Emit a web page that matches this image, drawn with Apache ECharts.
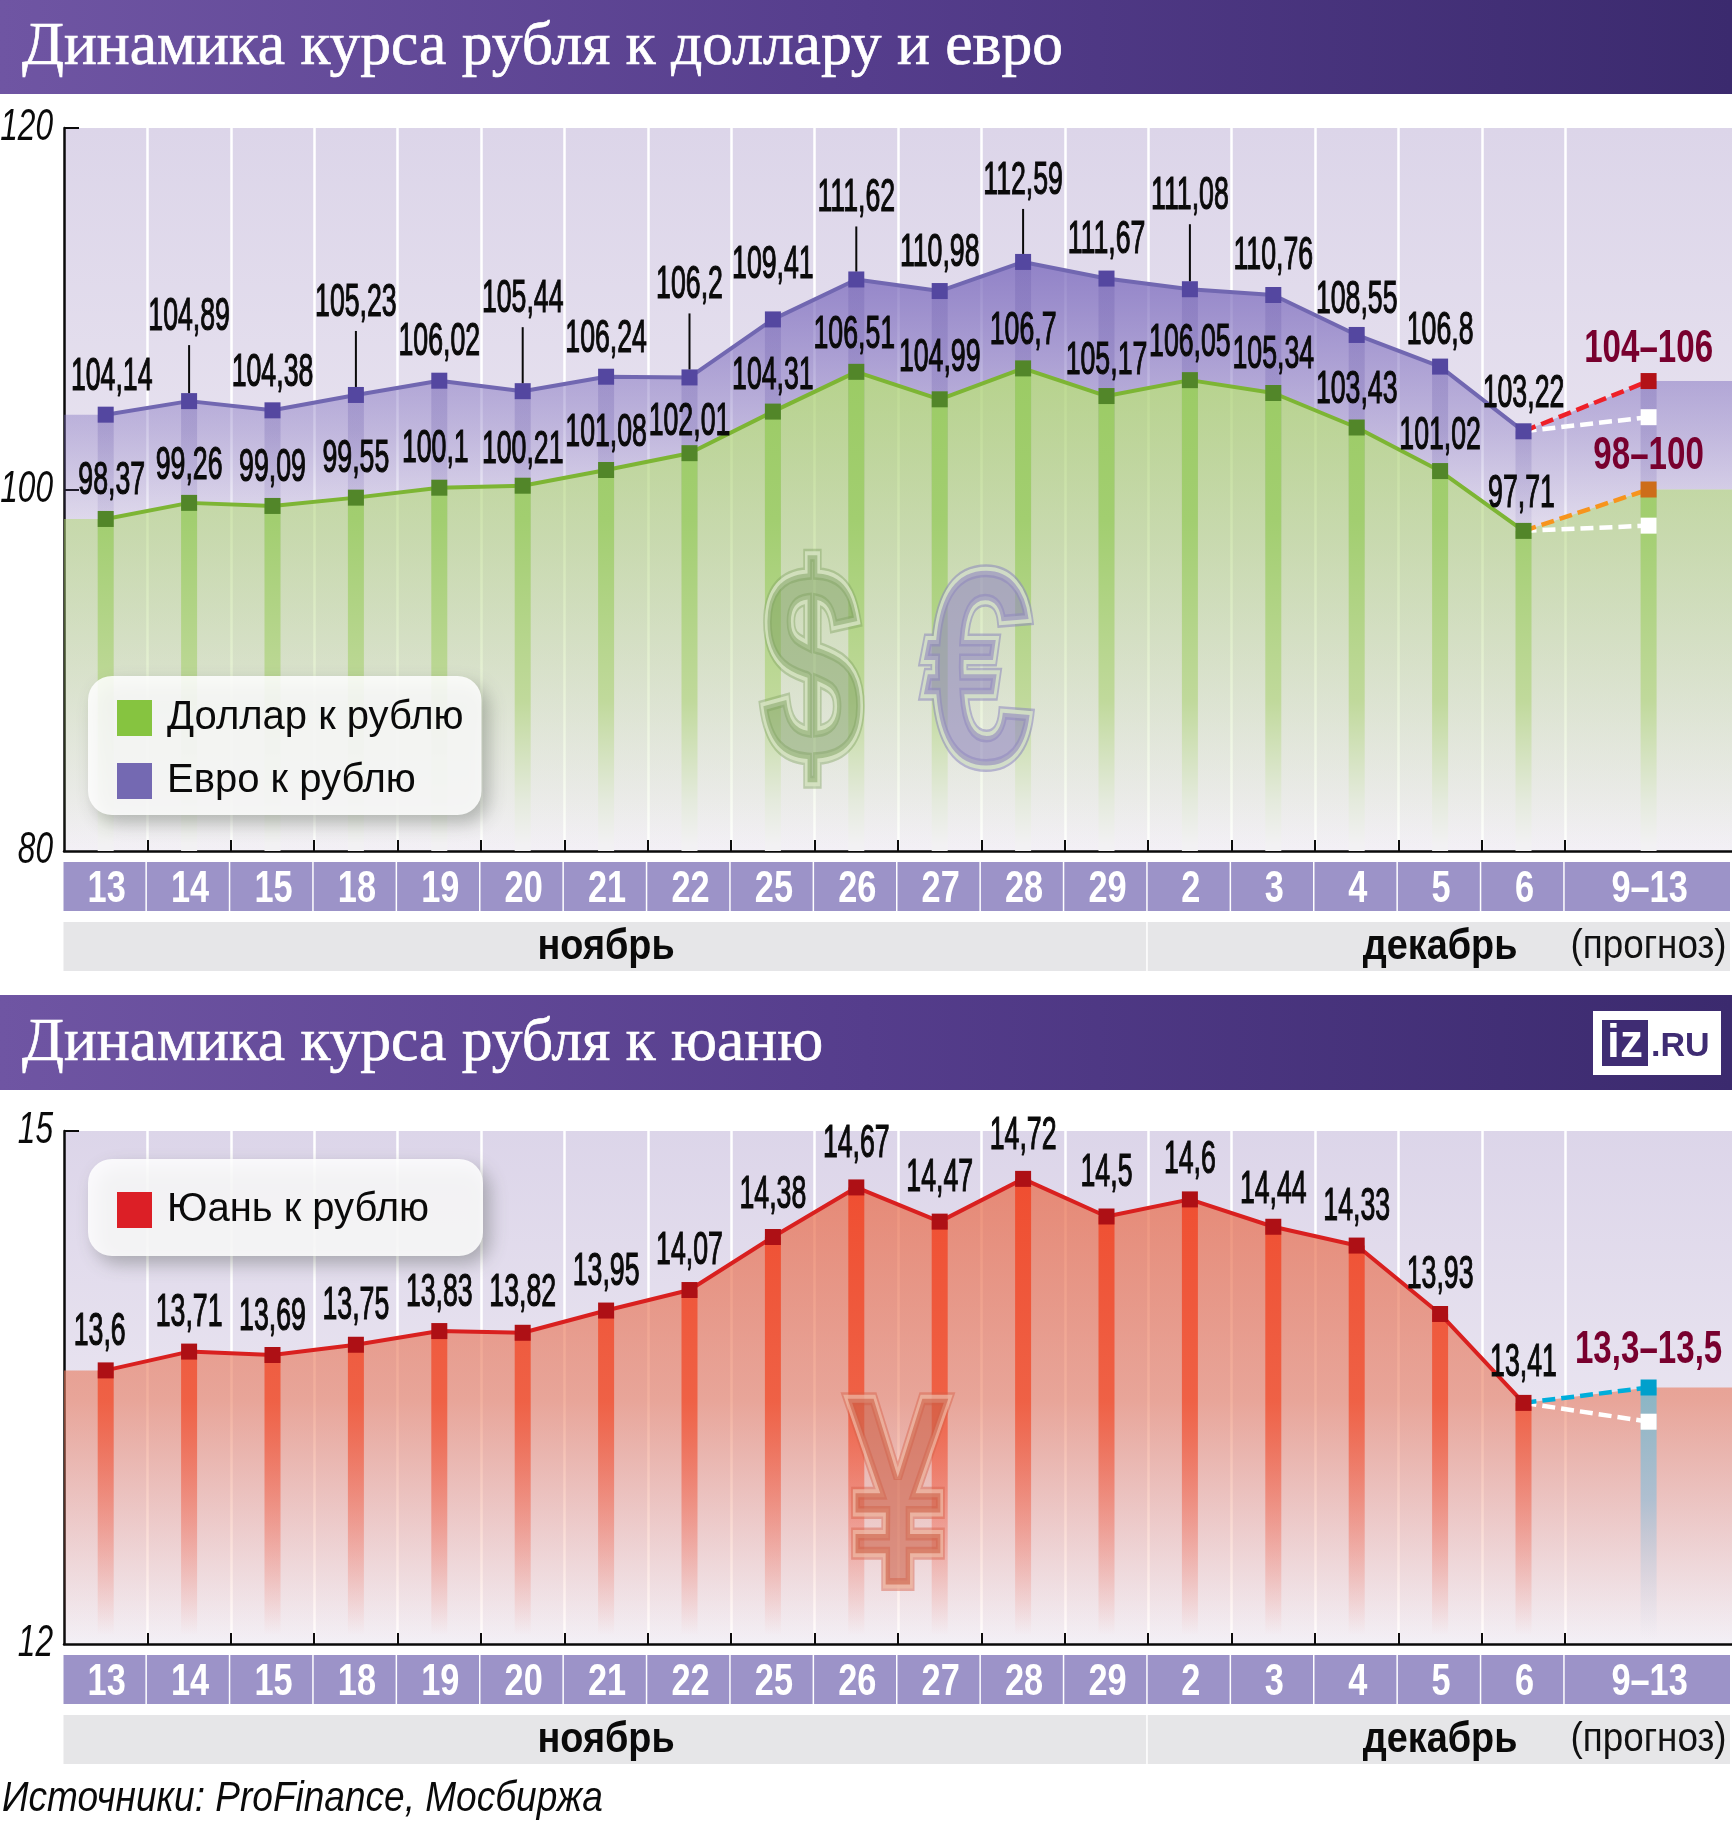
<!DOCTYPE html>
<html>
<head>
<meta charset="utf-8">
<title>Динамика курса рубля</title>
<script src="https://cdn.jsdelivr.net/npm/echarts@6/dist/echarts.min.js"></script>
<style>
  html, body { margin: 0; padding: 0; background: #fff; }
  #chart { width: 1732px; height: 1821px; }
</style>
</head>
<body>
<div id="chart"></div>
<script>
const dayLabels = ['13', '14', '15', '18', '19', '20', '21', '22', '25', '26', '27', '28', '29', '2', '3', '4', '5', '6'];
const forecastDayLabel = '9–13';
const monthLabels = ['ноябрь', 'декабрь'];
const monthStart = [0, 13];
const monthEnd = [13, 20];
const forecastNote = '(прогноз)';

const usdValues = [98.37, 99.26, 99.09, 99.55, 100.1, 100.21, 101.08, 102.01, 104.31, 106.51, 104.99, 106.7, 105.17, 106.05, 105.34, 103.43, 101.02, 97.71];
const eurValues = [104.14, 104.89, 104.38, 105.23, 106.02, 105.44, 106.24, 106.2, 109.41, 111.62, 110.98, 112.59, 111.67, 111.08, 110.76, 108.55, 106.8, 103.22];
const cnyValues = [13.6, 13.71, 13.69, 13.75, 13.83, 13.82, 13.95, 14.07, 14.38, 14.67, 14.47, 14.72, 14.5, 14.6, 14.44, 14.33, 13.93, 13.41];

const usdForecast = [98, 100];
const eurForecast = [104, 106];
const cnyForecast = [13.3, 13.5];

const topTicks = [80, 100, 120];
const bottomTicks = [12, 15];

// how far the number sits above its marker, px
const eurLift = [37, 84, 37, 92, 38, 92, 37, 92, 54, 81, 38, 81, 38, 93, 39, 35, 35, 37];
const usdLift = [38, 37, 38, 38, 38, 35, 37, 31, 35, 37, 41, 37, 35, 37, 38, 37, 35, 37];
const cnyLift = [38, 38, 38, 38, 38, 39, 38, 39, 42, 43, 43, 43, 43, 39, 36, 38, 39, 40];
const eurShift = [6, 0, 0, 0, 0, 0, 0, 0, 0, 0, 0, 0, 0, 0, 0, 0, 0, 0];
const usdShift = [6, 0, 0, 0, -4, 0, 0, 0, 0, -2, 0, 0, 0, 0, 0, 0, 0, -2];
const cnyShift = [-6, 0, 0, 0, 0, 0, 0, 0, 0, 0, 0, 0, 0, 0, 0, 0, 0, 0];

const dayX = dayLabels.map((_, i) => i + 0.5);
const lastX = dayX[dayX.length - 1];
const forecastX = 19;
const xMax = 20;
const tickValues = dayLabels.map((_, i) => i + 1);

const SANS = '"Liberation Sans", sans-serif';
const SERIF = '"Liberation Serif", serif';

const grad = (y0, y1, stops) => new echarts.graphic.LinearGradient(0, y0, 0, y1,
    stops.map(s => ({ offset: (s[0] - y0) / (y1 - y0), color: s[1] })), true);

const pairs = (values) => values.map((v, i) => [dayX[i], v]);

// contour of a shaded block: flat out to the left edge, up to the forecast top, flat to the right edge
const contour = (values, forecast) => [[0, values[0]], ...pairs(values), [forecastX, forecast[1]], [xMax, forecast[1]]];

const chart = echarts.init(document.getElementById('chart'));

const series = [];

function lineSeries(name, g, values, lineColor, markerColor) {
    series.push({
        name, type: 'line', xAxisIndex: g, yAxisIndex: g, data: pairs(values), z: 5,
        symbol: 'rect', symbolSize: 16, showSymbol: true,
        lineStyle: { color: lineColor, width: 4 },
        itemStyle: { color: markerColor }, silent: true
    });
}

function dashSeries(g, from, to, lineColor, markerColor) {
    series.push({
        type: 'line', xAxisIndex: g, yAxisIndex: g, z: 4, silent: true,
        data: [{ value: [lastX, from], symbol: 'none' }, { value: [forecastX, to] }],
        symbol: 'rect', symbolSize: 16,
        lineStyle: { color: lineColor, width: 4.5, type: [13, 6] },
        itemStyle: { color: markerColor }
    });
}

function areaSeries(g, points, fill) {
    series.push({
        type: 'line', xAxisIndex: g, yAxisIndex: g, z: 2, silent: true,
        data: points, symbol: 'none',
        lineStyle: { width: 0 }, areaStyle: { color: fill, opacity: 1, origin: 'start' }
    });
}

// shaded band between two contours
function bandSeries(g, upper, lower, fill) {
    series.push({
        type: 'custom', xAxisIndex: g, yAxisIndex: g, z: 2, silent: true,
        data: [upper[0]],
        renderItem(params, api) {
            const pts = [...upper, ...lower.slice().reverse()].map(p => api.coord(p));
            return { type: 'polygon', shape: { points: pts }, style: { fill } };
        }
    });
}

function barSeries(g, values, forecastTop, fill, forecastFill) {
    series.push({
        type: 'bar', xAxisIndex: g, yAxisIndex: g, z: 3, silent: true, barWidth: 16, barGap: '-100%',
        data: [...pairs(values), { value: [forecastX, forecastTop], itemStyle: forecastFill ? { color: forecastFill } : undefined }],
        itemStyle: { color: fill }
    });
}

function valueLabelSeries(g, values, lift, shift) {
    series.push({
        type: 'custom', xAxisIndex: g, yAxisIndex: g, z: 7, silent: true,
        data: pairs(values),
        renderItem(params, api) {
            const i = params.dataIndex;
            const p = api.coord([api.value(0), api.value(1)]);
            const y = p[1] - lift[i];
            const kids = [{
                type: 'text', x: p[0] + shift[i], y, scaleX: 0.58,
                style: {
                    text: String(values[i]).replace('.', ','), align: 'center', verticalAlign: 'middle',
                    font: '46px ' + SANS, fill: '#0a0a0a', stroke: '#0a0a0a', lineWidth: 1.2
                }
            }];
            if (lift[i] > 70) {
                kids.push({
                    type: 'line', shape: { x1: p[0], y1: p[1] - 8, x2: p[0], y2: y + 28 },
                    style: { stroke: '#0a0a0a', lineWidth: 2 }
                });
            }
            return { type: 'group', children: kids };
        }
    });
}

function forecastLabelSeries(g, value, text, lift) {
    series.push({
        type: 'custom', xAxisIndex: g, yAxisIndex: g, z: 7, silent: true,
        data: [[forecastX, value]],
        renderItem(params, api) {
            const p = api.coord([api.value(0), api.value(1)]);
            return {
                type: 'text', x: p[0], y: p[1] - lift, scaleX: 0.72,
                style: {
                    text, align: 'center', verticalAlign: 'middle',
                    font: 'bold 46px ' + SANS, fill: '#78002e'
                }
            };
        }
    });
}

function tickLabelSeries(g, ticks) {
    series.push({
        type: 'custom', xAxisIndex: g, yAxisIndex: g, z: 7, silent: true,
        data: ticks.map(t => [0, t]),
        renderItem(params, api) {
            const p = api.coord([0, api.value(1)]);
            return {
                type: 'text', x: p[0] - 11, y: p[1], scaleX: 0.72,
                style: {
                    text: String(ticks[params.dataIndex]), align: 'right', verticalAlign: 'middle',
                    font: 'italic 44px ' + SANS, fill: '#0a0a0a'
                }
            };
        }
    });
}

// day boxes and month bands below the plot
function stripSeries(g, yMin) {
    const labels = [...dayLabels, forecastDayLabel];
    series.push({
        type: 'custom', xAxisIndex: g, yAxisIndex: g, z: 3, silent: true,
        data: labels.map((_, i) => [i, yMin]),
        renderItem(params, api) {
            const i = api.value(0);
            const x0 = api.coord([i, yMin]);
            const x1 = api.coord([i === dayLabels.length ? xMax : i + 1, yMin]);
            const top = x0[1] + 11;
            return {
                type: 'group', children: [
                    { type: 'rect', shape: { x: x0[0] - 0.5, y: top, width: x1[0] - x0[0] - 1.5, height: 49 }, style: { fill: '#9c93c8' } },
                    {
                        type: 'text', x: (x0[0] + x1[0]) / 2 + 1, y: top + 28, scaleX: 0.78,
                        style: {
                            text: labels[i], align: 'center', verticalAlign: 'middle',
                            font: 'bold 44px ' + SANS, fill: '#fff'
                        }
                    }
                ]
            };
        }
    });
    series.push({
        type: 'custom', xAxisIndex: g, yAxisIndex: g, z: 3, silent: true,
        data: monthLabels.map((_, i) => [monthStart[i], yMin]),
        renderItem(params, api) {
            const i = params.dataIndex;
            const x0 = api.coord([monthStart[i], yMin]);
            const x1 = api.coord([monthEnd[i], yMin]);
            const top = x0[1] + 71;
            const kids = [
                { type: 'rect', shape: { x: x0[0] - 0.5, y: top, width: x1[0] - x0[0] - 1.5, height: 49 }, style: { fill: '#e6e6e8' } },
                {
                    type: 'text', x: (x0[0] + x1[0]) / 2, y: top + 25, scaleX: 0.9,
                    style: {
                        text: monthLabels[i], align: 'center', verticalAlign: 'middle',
                        font: 'bold 42px ' + SANS, fill: '#0a0a0a'
                    }
                }
            ];
            if (i === monthLabels.length - 1) {
                const c = api.coord([forecastX, yMin]);
                kids.push({
                    type: 'text', x: c[0], y: top + 25, scaleX: 0.92,
                    style: {
                        text: forecastNote, align: 'center', verticalAlign: 'middle',
                        font: '40px ' + SANS, fill: '#111'
                    }
                });
            }
            return { type: 'group', children: kids };
        }
    });
}

// top panel: dollar and euro
bandSeries(0, contour(eurValues, eurForecast), contour(usdValues, usdForecast), grad(262, 851, [[262, 'rgba(125,108,190,0.8)'], [430, 'rgba(125,108,190,0.36)'], [535, 'rgba(125,108,190,0.05)'], [851, 'rgba(125,108,190,0)']]));
barSeries(0, eurValues, eurForecast[1], grad(262, 851, [[262, 'rgba(105,90,170,0.28)'], [430, 'rgba(105,90,170,0.25)'], [590, 'rgba(105,90,170,0)'], [851, 'rgba(105,90,170,0)']]));
areaSeries(0, contour(usdValues, usdForecast), grad(300, 851, [[300, 'rgba(172,208,118,0.92)'], [500, 'rgba(172,208,118,0.6)'], [660, 'rgba(172,208,118,0.34)'], [800, 'rgba(172,208,118,0.1)'], [851, 'rgba(172,208,118,0)']]));
barSeries(0, usdValues, usdForecast[1], grad(300, 851, [[300, 'rgb(152,202,95)'], [520, 'rgb(162,206,112)'], [700, 'rgb(192,217,155)'], [800, 'rgb(228,234,220)'], [845, 'rgb(242,241,243)']]));
lineSeries('Евро к рублю', 0, eurValues, '#7167b1', '#5447a0');
lineSeries('Доллар к рублю', 0, usdValues, '#7db534', '#528629');
dashSeries(0, eurValues[17], eurForecast[0], '#fff', '#fff');
dashSeries(0, eurValues[17], eurForecast[1], '#ee2028', '#b31217');
dashSeries(0, usdValues[17], usdForecast[0], '#fff', '#fff');
dashSeries(0, usdValues[17], usdForecast[1], '#f7941d', '#cd6d1a');
valueLabelSeries(0, eurValues, eurLift, eurShift);
valueLabelSeries(0, usdValues, usdLift, usdShift);
forecastLabelSeries(0, eurForecast[1], '104–106', 32);
forecastLabelSeries(0, usdForecast[1], '98–100', 33);
tickLabelSeries(0, topTicks);
stripSeries(0, topTicks[0]);

// bottom panel: yuan
areaSeries(1, contour(cnyValues, cnyForecast), grad(1180, 1644, [[1180, 'rgba(232,115,85,0.78)'], [1400, 'rgba(232,120,90,0.58)'], [1644, 'rgba(235,130,110,0)']]));
barSeries(1, cnyValues, cnyForecast[1], grad(1180, 1644, [[1180, 'rgba(240,75,45,0.95)'], [1400, 'rgba(240,85,55,0.85)'], [1635, 'rgba(240,90,70,0)']]),
    grad(1388, 1640, [[1388, 'rgba(120,185,205,0.85)'], [1500, 'rgba(150,190,215,0.7)'], [1640, 'rgba(200,210,230,0)']]));
lineSeries('Юань к рублю', 1, cnyValues, '#d9201f', '#ae1015');
dashSeries(1, cnyValues[17], cnyForecast[0], '#fff', '#fff');
dashSeries(1, cnyValues[17], cnyForecast[1], '#00aedb', '#00a0cc');
valueLabelSeries(1, cnyValues, cnyLift, cnyShift);
forecastLabelSeries(1, cnyForecast[1], '13,3–13,5', 37);
tickLabelSeries(1, bottomTicks);
stripSeries(1, bottomTicks[0]);

const headerFill = () => new echarts.graphic.LinearGradient(0, 0, 1, 0, [
    { offset: 0, color: '#6f55a3' }, { offset: 0.5, color: '#553d8c' }, { offset: 1, color: '#3b2a6e' }
]);

// currency sign watermark: outer ring, pale ring, fill
function signLayers(ch, x, y, size, sx, ring, pale, fill) {
    const base = { type: 'text', x, y, scaleX: sx, z: 4, silent: true };
    const text = { text: ch, align: 'center', verticalAlign: 'middle', font: 'bold ' + size + 'px ' + SANS };
    return [
        { ...base, style: { ...text, fill: 'transparent', stroke: ring, lineWidth: 13 } },
        { ...base, style: { ...text, fill: 'transparent', stroke: pale, lineWidth: 8 } },
        { ...base, style: { ...text, fill } }
    ];
}

const graphics = [
    { type: 'rect', shape: { x: 0, y: 0, width: 1732, height: 94 }, style: { fill: headerFill() }, z: 1 },
    { type: 'rect', shape: { x: 0, y: 995, width: 1732, height: 95 }, style: { fill: headerFill() }, z: 1 },
    ...signLayers('$', 812, 685, 278, 0.66, 'rgba(130,165,100,0.45)', 'rgba(215,228,195,0.85)', 'rgba(125,160,95,0.5)'),
    ...signLayers('€', 978, 687, 275, 0.72, 'rgba(140,135,190,0.55)', 'rgba(215,228,200,0.85)', 'rgba(145,135,190,0.6)'),
    ...signLayers('¥', 898, 1510, 270, 0.68, 'rgba(215,95,70,0.45)', 'rgba(240,190,170,0.7)', 'rgba(205,95,70,0.6)'),
    { type: 'rect', shape: { x: 1593, y: 1011, width: 128, height: 64 }, style: { fill: '#fff' }, z: 2 },
    { type: 'rect', shape: { x: 1602, y: 1020, width: 46, height: 46 }, style: { fill: '#3f2c73' }, z: 3 },
    { type: 'text', x: 1625, y: 1044, z: 4, style: { text: 'iz', align: 'center', verticalAlign: 'middle', font: 'bold 46px ' + SANS, fill: '#fff' } },
    { type: 'text', x: 1651, y: 1047, z: 4, style: { text: '.RU', align: 'left', verticalAlign: 'middle', font: 'bold 34px ' + SANS, fill: '#3f2c73' } },
    { type: 'text', x: 2, y: 1799, z: 4, scaleX: 0.882, style: { text: 'Источники: ProFinance, Мосбиржа', align: 'left', verticalAlign: 'middle', font: 'italic 42px ' + SANS, fill: '#0a0a0a' } }
];

const plotFill = (y0, y1) => grad(y0, y1, [[y0, '#dcd5e9'], [y1, '#f3f0f6']]);

function xAxisOf(g) {
    return {
        type: 'value', gridIndex: g, min: 0, max: xMax,
        axisLine: { show: true, lineStyle: { color: '#0a0a0a', width: 2.5 } },
        axisTick: { show: true, inside: true, length: 11, customValues: tickValues, lineStyle: { color: '#0a0a0a', width: 2 } },
        axisLabel: { show: false },
        splitLine: { show: true, lineStyle: { color: '#fff', width: 2.5 } }
    };
}

function yAxisOf(g, min, max, interval, tickAt) {
    return {
        type: 'value', gridIndex: g, min, max, interval,
        axisLine: { show: true, lineStyle: { color: '#0a0a0a', width: 2.5 } },
        axisTick: { show: true, inside: true, length: 15, customValues: tickAt, lineStyle: { color: '#0a0a0a', width: 2 } },
        axisLabel: { show: false },
        splitLine: { show: false }
    };
}

function legendOf(names, colors, top, padding, gap) {
    return {
        orient: 'vertical', left: 88, top, padding, itemGap: gap, itemWidth: 35, itemHeight: 36,
        selectedMode: false, backgroundColor: 'rgba(255,255,255,0.86)', borderRadius: 24,
        shadowColor: 'rgba(60,70,60,0.4)', shadowBlur: 18, shadowOffsetX: 7, shadowOffsetY: 8,
        textStyle: { fontFamily: SANS, fontSize: 40, lineHeight: 36, color: '#0a0a0a', padding: [6, 0, 0, 10] },
        data: names.map((name, i) => ({ name, icon: 'rect', itemStyle: { color: colors[i] } }))
    };
}

chart.setOption({
    animation: false,
    backgroundColor: '#fff',
    title: [
        { text: 'Динамика курса рубля к доллару и евро', left: 17, top: 12, textStyle: { fontFamily: SERIF, fontSize: 61.5, fontWeight: 'normal', color: '#fff', textBorderColor: '#fff', textBorderWidth: 0.7 } },
        { text: 'Динамика курса рубля к юаню', left: 17, top: 1008, textStyle: { fontFamily: SERIF, fontSize: 61.5, fontWeight: 'normal', color: '#fff', textBorderColor: '#fff', textBorderWidth: 0.7 } }
    ],
    legend: [
        legendOf(['Доллар к рублю', 'Евро к рублю'], ['#86c440', '#7469b2'], 676, [21, 18, 13, 29], 21),
        legendOf(['Юань к рублю'], ['#dc1f26'], 1159, [30, 54, 25, 29], 0)
    ],
    grid: [
        { left: 64, top: 128, width: 1668, height: 723, show: true, borderWidth: 0, outerBoundsMode: 'none', backgroundColor: plotFill(128, 851) },
        { left: 64, top: 1131, width: 1668, height: 513, show: true, borderWidth: 0, outerBoundsMode: 'none', backgroundColor: plotFill(1131, 1644) }
    ],
    xAxis: [xAxisOf(0), xAxisOf(1)],
    yAxis: [yAxisOf(0, 80, 120, 20, [100, 120]), yAxisOf(1, 12, 15, 3, [15])],
    graphic: graphics,
    series
});
</script>
</body>
</html>
